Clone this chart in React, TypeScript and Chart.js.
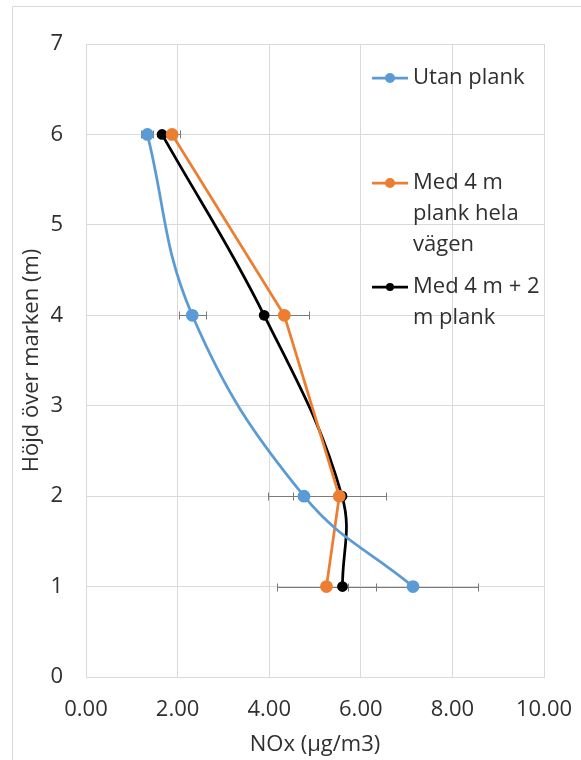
import { useEffect, useRef } from "react";
import { Chart, registerables } from "chart.js";

Chart.register(...registerables);

// ---- data ----
const HEIGHTS = [6, 4, 2, 1];
const SERIES_NAMES = ["Utan plank", "Med 4 m plank hela vägen", "Med 4 m + 2 m plank"];
const UTAN_PLANK = [1.34, 2.32, 4.76, 7.14];
const MED_4M = [1.88, 4.33, 5.53, 5.25];
const MED_4M_2M = [1.66, 3.89, 5.59, 5.6];
const UTAN_PLANK_ERR = [0.13, 0.29, 0.79, 1.41];
const MED_4M_ERR = [0.18, 0.53, 1.01, 1.08];
const MED_4M_2M_ERR = [0, 0, 0, 0];
const X_TICKS = [0, 2, 4, 6, 8, 10];
const Y_TICKS = [0, 1, 2, 3, 4, 5, 6, 7];
const X_TITLE = "NOx (µg/m3)";
const Y_TITLE = "Höjd över marken (m)";

const FONT = "'Open Sans', Lato, sans-serif";
const FONT_SIZE = 22;
const TEXT = "#303030";
const GRID = "#d9d9d9";
const COLORS = ["#5B9BD5", "#ED7D31", "#000000"];

const errorBarPlugin = {
  id: "errorBars",
  beforeDatasetsDraw(chart: any) {
    const ctx = chart.ctx;
    const xs = chart.scales.x;
    const ys = chart.scales.y;
    ctx.save();
    ctx.strokeStyle = "#7a7a7a";
    ctx.lineWidth = 1;
    chart.data.datasets.forEach((ds: any) => {
      const errs: number[] | undefined = ds.errors;
      if (!errs) return;
      ds.data.forEach((p: any, i: number) => {
        const e = errs[i];
        if (!e) return;
        const y = Math.round(ys.getPixelForValue(p.y)) + 0.5;
        const x1 = Math.round(xs.getPixelForValue(p.x - e)) + 0.5;
        const x2 = Math.round(xs.getPixelForValue(p.x + e)) + 0.5;
        ctx.beginPath();
        ctx.moveTo(x1, y);
        ctx.lineTo(x2, y);
        ctx.moveTo(x1, y - 4);
        ctx.lineTo(x1, y + 4);
        ctx.moveTo(x2, y - 4);
        ctx.lineTo(x2, y + 4);
        ctx.stroke();
      });
    });
    ctx.restore();
  },
};

const borderPlugin = {
  id: "outerBorder",
  beforeDraw(chart: any) {
    const ctx = chart.ctx;
    ctx.save();
    ctx.strokeStyle = GRID;
    ctx.lineWidth = 1;
    ctx.beginPath();
    ctx.moveTo(12.5, chart.height);
    ctx.lineTo(12.5, 6.5);
    ctx.lineTo(chart.width, 6.5);
    ctx.stroke();
    ctx.restore();
  },
};

function wrapText(ctx: CanvasRenderingContext2D, text: string, maxWidth: number): string[] {
  const words = text.split(" ");
  const lines: string[] = [];
  let cur = "";
  words.forEach((w) => {
    const test = cur ? cur + " " + w : w;
    if (cur && ctx.measureText(test).width > maxWidth) {
      lines.push(cur);
      cur = w;
    } else {
      cur = test;
    }
  });
  if (cur) lines.push(cur);
  return lines;
}

const legendPlugin = {
  id: "sideLegend",
  afterDraw(chart: any) {
    const ctx = chart.ctx;
    const area = chart.chartArea;
    const x0 = area.right - 172;
    const itemTops = [34, 139, 243];
    const lineH = 31;
    ctx.save();
    ctx.font = `${FONT_SIZE}px ${FONT}`;
    ctx.textBaseline = "middle";
    ctx.textAlign = "left";
    chart.data.datasets.forEach((ds: any, i: number) => {
      const y = area.top + itemTops[i];
      ctx.strokeStyle = ds.borderColor;
      ctx.lineWidth = 2.75;
      ctx.beginPath();
      ctx.moveTo(x0, y);
      ctx.lineTo(x0 + 36, y);
      ctx.stroke();
      ctx.fillStyle = ds.pointBackgroundColor;
      ctx.beginPath();
      ctx.arc(x0 + 18, y, ds.pointRadius, 0, Math.PI * 2);
      ctx.fill();
      ctx.fillStyle = TEXT;
      const lines = wrapText(ctx, ds.label, 132);
      lines.forEach((ln, k) => ctx.fillText(ln, x0 + 41, y + k * lineH));
    });
    ctx.restore();
  },
};

function makeData(xs: number[]) {
  return xs.map((x, i) => ({ x, y: HEIGHTS[i] }));
}

export default function App() {
  const ref = useRef<HTMLCanvasElement>(null);

  useEffect(() => {
    if (!ref.current) return;
    Chart.defaults.font.family = FONT;
    const chart = new Chart(ref.current, {
      type: "scatter",
      data: {
        datasets: [
          {
            label: SERIES_NAMES[0],
            data: makeData(UTAN_PLANK),
            errors: UTAN_PLANK_ERR,
            showLine: true,
            tension: 0.4,
            borderColor: COLORS[0],
            backgroundColor: COLORS[0],
            pointBackgroundColor: COLORS[0],
            pointBorderColor: COLORS[0],
            pointRadius: 5,
            borderWidth: 2.75,
          } as any,
          {
            label: SERIES_NAMES[1],
            data: makeData(MED_4M),
            errors: MED_4M_ERR,
            showLine: true,
            tension: 0,
            borderColor: COLORS[1],
            backgroundColor: COLORS[1],
            pointBackgroundColor: COLORS[1],
            pointBorderColor: COLORS[1],
            pointRadius: 5,
            borderWidth: 2.75,
          } as any,
          {
            label: SERIES_NAMES[2],
            data: makeData(MED_4M_2M),
            errors: MED_4M_2M_ERR,
            showLine: true,
            tension: 0.4,
            borderColor: COLORS[2],
            backgroundColor: COLORS[2],
            pointBackgroundColor: COLORS[2],
            pointBorderColor: COLORS[2],
            pointRadius: 4,
            borderWidth: 2.75,
          } as any,
        ],
      },
      options: {
        responsive: false,
        animation: false,
        layout: { padding: { top: 44, right: 37, bottom: 0, left: 0 } },
        plugins: {
          legend: { display: false },
          tooltip: { enabled: false },
        },
        scales: {
          x: {
            type: "linear",
            min: 0,
            max: 10,
            afterBuildTicks: (s: any) => {
              s.ticks = X_TICKS.map((v) => ({ value: v }));
            },
            afterFit: (s: any) => {
              s.height = 83;
              s.paddingLeft = 0;
              s.paddingRight = 0;
            },
            grid: { color: GRID, drawTicks: false, lineWidth: 1 },
            border: { display: true, color: GRID },
            ticks: {
              padding: 20,
              color: TEXT,
              font: { size: FONT_SIZE, family: FONT },
              callback: (v: any) => Number(v).toFixed(2),
              maxRotation: 0,
            },
            title: {
              display: true,
              text: X_TITLE,
              color: TEXT,
              font: { size: FONT_SIZE, family: FONT },
              padding: { top: 8, bottom: 2 },
            },
          },
          y: {
            type: "linear",
            min: 0,
            max: 7,
            afterBuildTicks: (s: any) => {
              s.ticks = Y_TICKS.map((v) => ({ value: v }));
            },
            afterFit: (s: any) => {
              s.width = 86;
              s.paddingTop = 0;
              s.paddingBottom = 0;
            },
            grid: { color: GRID, drawTicks: false, lineWidth: 1 },
            border: { display: true, color: GRID },
            ticks: {
              padding: 23,
              color: TEXT,
              font: { size: FONT_SIZE, family: FONT },
              callback: (v: any) => String(v),
            },
            title: {
              display: true,
              text: Y_TITLE,
              color: TEXT,
              font: { size: FONT_SIZE, family: FONT },
              padding: { top: 19, bottom: 0 },
            },
          },
        },
      } as any,
      plugins: [borderPlugin, errorBarPlugin, legendPlugin],
    });
    return () => chart.destroy();
  }, []);

  return (
    <div style={{ position: "absolute", left: 0, top: 0, width: 581, height: 760, background: "#fff" }}>
      <canvas ref={ref} width={581} height={760} style={{ display: "block" }} />
    </div>
  );
}
